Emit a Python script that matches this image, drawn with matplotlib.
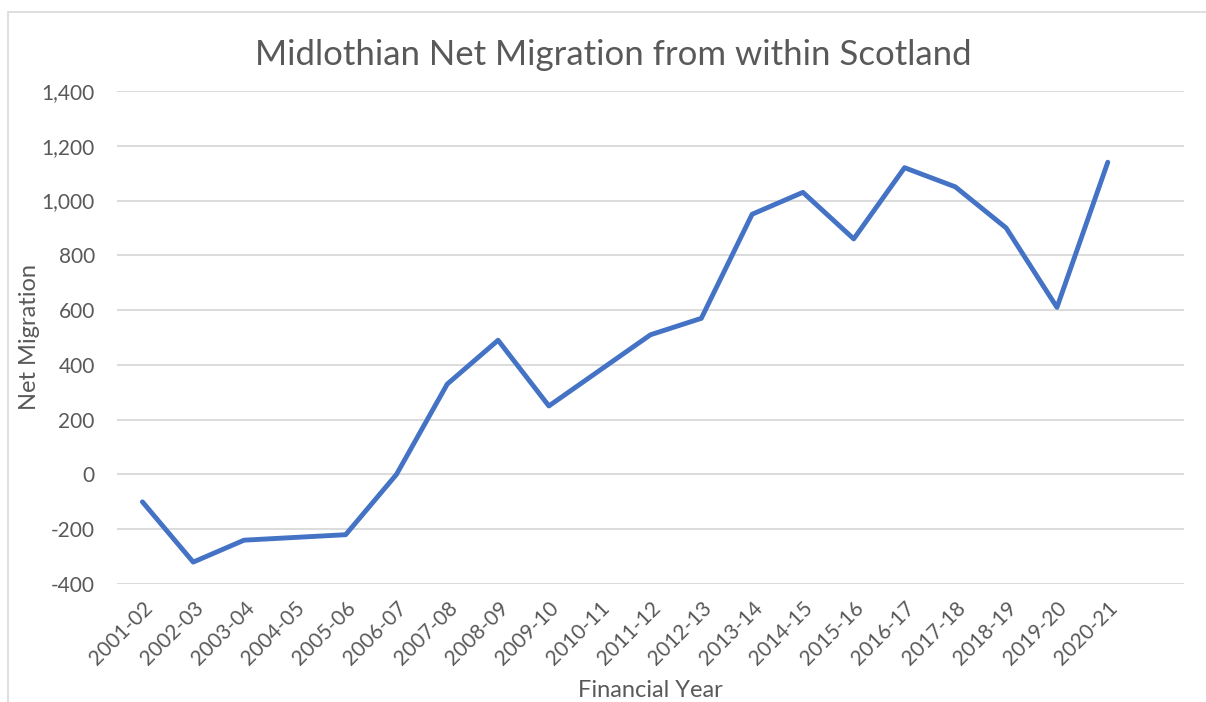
import matplotlib
matplotlib.use("Agg")
import matplotlib.pyplot as plt
from matplotlib.patches import Rectangle
from matplotlib.ticker import FuncFormatter

years = ["2001-02", "2002-03", "2003-04", "2004-05", "2005-06", "2006-07",
         "2007-08", "2008-09", "2009-10", "2010-11", "2011-12", "2012-13",
         "2013-14", "2014-15", "2015-16", "2016-17", "2017-18", "2018-19",
         "2019-20", "2020-21"]
net_migration = [-100, -320, -240, -230, -220, 0, 330, 490, 250, 380, 510,
                 570, 950, 1030, 860, 1120, 1050, 900, 610, 1140]

grey = "#595959"
plt.rcParams['font.family'] = ['Lato', 'DejaVu Sans']

fig = plt.figure(figsize=(12.06, 7.02), dpi=100)
ax = fig.add_axes([117 / 1206, 1 - 584 / 702, (1184 - 117) / 1206, (584 - 91) / 702])

# outer chart border
fig.patches.append(Rectangle((8 / 1206, -0.05), 1.1, 1 - 12 / 702 + 0.05,
                             transform=fig.transFigure, fill=False,
                             edgecolor="#D9D9D9", linewidth=1.2))

x = list(range(len(years)))
ax.plot(x, net_migration, color="#4472C4", linewidth=3.5,
        solid_capstyle="round", solid_joinstyle="round", zorder=3)

ax.set_xlim(-0.5, len(years) + 0.5)
ax.set_ylim(-400, 1400)
ax.set_yticks(range(-400, 1401, 200))
ax.yaxis.set_major_formatter(FuncFormatter(lambda v, p: f"{int(v):,}"))
ax.set_xticks(x)
ax.set_xticklabels(years, rotation=45, ha="right", rotation_mode="anchor")

ax.grid(axis="y", color="#D9D9D9", linewidth=1.3)
ax.set_axisbelow(True)
for s in ax.spines.values():
    s.set_visible(False)
ax.tick_params(length=0, colors=grey, labelsize=15)
ax.tick_params(axis="y", pad=16)
ax.tick_params(axis="x", pad=10)

fig.text(613 / 1206, 1 - 55 / 702, "Midlothian Net Migration from within Scotland",
         fontsize=25, color=grey, ha="center", va="center")
ax.set_xlabel("Financial Year", fontsize=17, color=grey, labelpad=8)
ax.set_ylabel("Net Migration", fontsize=17, color=grey, labelpad=1)

fig.savefig("out.png", dpi=100, facecolor="white")
